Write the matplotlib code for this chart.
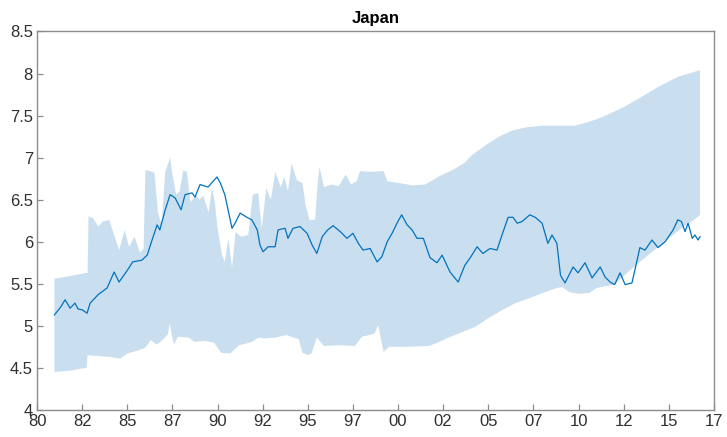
import matplotlib
matplotlib.use('Agg')
import matplotlib.pyplot as plt
import numpy as np

plt.rcParams['font.family'] = ['Liberation Sans', 'DejaVu Sans']

# median path (decimal year, value)
med_t = [1980.96, 1981.3, 1981.55, 1981.83, 1982.1, 1982.27, 1982.5, 1982.77, 1982.94,
         1983.38, 1983.88, 1984.27, 1984.54, 1985.0, 1985.3, 1985.8, 1986.1, 1986.37,
         1986.65, 1986.8, 1987.1, 1987.37, 1987.65, 1987.98, 1988.2, 1988.59, 1988.75,
         1989.03, 1989.47, 1989.97, 1990.15, 1990.4, 1990.7, 1990.8, 1990.97, 1991.25,
         1991.63, 1991.9, 1992.2, 1992.35, 1992.52, 1992.8, 1993.19, 1993.35, 1993.74,
         1993.9, 1994.18, 1994.57, 1994.96, 1995.24, 1995.5, 1995.8, 1996.1, 1996.4,
         1996.8, 1997.17, 1997.5, 1997.8, 1998.06, 1998.45, 1998.84, 1999.1, 1999.4,
         1999.67, 1999.94, 2000.2, 2000.5, 2000.78, 2001.05, 2001.4, 2001.77, 2002.16,
         2002.44, 2002.88, 2003.33, 2003.7, 2004.0, 2004.38, 2004.7, 2005.1, 2005.48,
         2005.76, 2006.1, 2006.37, 2006.6, 2006.87, 2007.3, 2007.6, 2007.98, 2008.3,
         2008.53, 2008.8, 2009.0, 2009.25, 2009.7, 2009.97, 2010.36, 2010.75, 2011.2,
         2011.47, 2011.75, 2012.0, 2012.3, 2012.58, 2012.96, 2013.4, 2013.68, 2014.07,
         2014.4, 2014.8, 2015.24, 2015.5, 2015.7, 2015.9, 2016.07, 2016.3, 2016.45,
         2016.62, 2016.73]
med_v = [5.13, 5.22, 5.31, 5.21, 5.27, 5.20, 5.19, 5.15, 5.27,
         5.37, 5.45, 5.64, 5.52, 5.66, 5.76, 5.78, 5.84, 6.02,
         6.20, 6.14, 6.38, 6.56, 6.52, 6.38, 6.56, 6.58, 6.53,
         6.68, 6.65, 6.77, 6.70, 6.56, 6.26, 6.16, 6.22, 6.34,
         6.29, 6.26, 6.14, 5.96, 5.88, 5.94, 5.94, 6.14, 6.16,
         6.04, 6.16, 6.18, 6.10, 5.96, 5.86, 6.06, 6.14, 6.19,
         6.12, 6.04, 6.10, 5.98, 5.90, 5.92, 5.76, 5.82, 6.00,
         6.10, 6.22, 6.32, 6.20, 6.14, 6.04, 6.04, 5.81, 5.75,
         5.84, 5.64, 5.52, 5.72, 5.81, 5.94, 5.86, 5.92, 5.90,
         6.08, 6.29, 6.29, 6.22, 6.24, 6.32, 6.29, 6.22, 5.98,
         6.08, 5.98, 5.60, 5.51, 5.70, 5.63, 5.75, 5.57, 5.70,
         5.58, 5.52, 5.49, 5.63, 5.49, 5.51, 5.93, 5.90, 6.02,
         5.93, 6.00, 6.14, 6.26, 6.24, 6.12, 6.22, 6.04, 6.08,
         6.02, 6.06]

# upper edge of the band
hi_t = [1980.96, 1981.5, 1982.0, 1982.5, 1982.8, 1982.85, 1983.1, 1983.4, 1983.65,
        1984.0, 1984.3, 1984.55, 1984.85, 1985.1, 1985.4, 1985.7, 1985.9, 1986.0,
        1986.25, 1986.5, 1986.7, 1986.9, 1987.1, 1987.37, 1987.5, 1987.7, 1987.9,
        1988.1, 1988.3, 1988.5, 1988.8, 1989.0, 1989.2, 1989.5, 1989.7, 1989.85,
        1990.0, 1990.25, 1990.4, 1990.6, 1990.8, 1991.0, 1991.3, 1991.7, 1991.95,
        1992.25, 1992.45, 1992.7, 1992.95, 1993.2, 1993.5, 1993.7, 1993.9, 1994.1,
        1994.4, 1994.7, 1994.9, 1995.1, 1995.4, 1995.55, 1995.65, 1995.9, 1996.3,
        1996.7, 1997.1, 1997.4, 1997.7, 1997.9, 1998.5, 1999.2, 1999.4, 2000.0,
        2000.8, 2001.5, 2002.3, 2003.0, 2003.7, 2004.1, 2004.8, 2005.6, 2006.3,
        2007.1, 2008.0, 2009.0, 2009.8, 2010.5, 2011.3, 2012.5, 2013.4, 2014.4,
        2015.5, 2016.73]
hi_v = [5.56, 5.58, 5.60, 5.62, 5.63, 6.30, 6.28, 6.18, 6.24,
        6.26, 6.06, 5.90, 6.14, 5.94, 6.06, 5.87, 5.92, 6.85,
        6.84, 6.82, 6.35, 6.20, 6.83, 7.00, 6.80, 6.56, 6.60,
        6.85, 6.83, 6.47, 6.55, 6.50, 6.55, 6.35, 6.64, 6.47,
        6.16, 5.84, 5.76, 6.04, 5.69, 6.12, 6.06, 6.08, 6.56,
        6.58, 6.16, 6.64, 6.50, 6.83, 6.65, 6.77, 6.60, 6.93,
        6.73, 6.70, 6.41, 6.26, 6.26, 6.70, 6.89, 6.65, 6.68,
        6.66, 6.80, 6.68, 6.72, 6.84, 6.83, 6.84, 6.72, 6.70,
        6.67, 6.68, 6.78, 6.85, 6.94, 7.03, 7.14, 7.25, 7.32,
        7.36, 7.38, 7.38, 7.38, 7.42, 7.48, 7.60, 7.71, 7.84,
        7.96, 8.04]

# lower edge of the band
lo_t = [1980.96, 1981.5, 1982.0, 1982.4, 1982.75, 1982.8, 1983.4, 1984.0, 1984.6,
        1985.0, 1985.5, 1986.0, 1986.3, 1986.6, 1986.8, 1987.25, 1987.35, 1987.5,
        1987.6, 1987.8, 1988.4, 1988.7, 1989.3, 1989.8, 1990.2, 1990.7, 1991.2,
        1991.8, 1992.3, 1992.6, 1993.2, 1993.8, 1994.5, 1994.7, 1995.0, 1995.2,
        1995.5, 1995.9, 1996.8, 1997.6, 1998.0, 1998.4, 1998.7, 1998.9, 1999.2,
        1999.5, 2000.5, 2001.7, 2002.2, 2002.8, 2003.5, 2004.3, 2005.0, 2005.8,
        2006.5, 2007.3, 2008.0, 2008.8, 2009.1, 2009.5, 2010.0, 2010.6, 2011.0,
        2011.5, 2012.0, 2012.7, 2013.4, 2014.2, 2015.0, 2015.7, 2016.4, 2016.73]
lo_v = [4.45, 4.46, 4.47, 4.49, 4.50, 4.65, 4.64, 4.63, 4.61,
        4.67, 4.70, 4.74, 4.83, 4.78, 4.80, 4.90, 5.03, 4.85,
        4.78, 4.87, 4.86, 4.81, 4.82, 4.80, 4.68, 4.67, 4.77,
        4.80, 4.86, 4.85, 4.86, 4.89, 4.84, 4.68, 4.65, 4.67,
        4.86, 4.76, 4.77, 4.76, 4.87, 4.89, 4.91, 5.01, 4.69,
        4.75, 4.75, 4.76, 4.80, 4.86, 4.92, 4.99, 5.09, 5.19,
        5.27, 5.33, 5.39, 5.45, 5.46, 5.40, 5.38, 5.39, 5.45,
        5.47, 5.49, 5.63, 5.76, 5.90, 6.04, 6.16, 6.26, 6.32]

x_ticks = [1980, 1982.5, 1985, 1987.5, 1990, 1992.5, 1995, 1997.5, 2000,
           2002.5, 2005, 2007.5, 2010, 2012.5, 2015, 2017.5]
x_labels = ['80', '82', '85', '87', '90', '92', '95', '97', '00', '02', '05',
            '07', '10', '12', '15', '17']
y_ticks = [4, 4.5, 5, 5.5, 6, 6.5, 7, 7.5, 8, 8.5]
y_labels = ['4', '4.5', '5', '5.5', '6', '6.5', '7', '7.5', '8', '8.5']

fig = plt.figure(figsize=(7.27, 4.37), dpi=100)
ax = fig.add_axes([0.051, 0.062, 0.931, 0.866])

poly_x = np.r_[hi_t, lo_t[::-1]]
poly_y = np.r_[hi_v, lo_v[::-1]]
ax.fill(poly_x, poly_y, color='#c9dff0', lw=0)
ax.plot(med_t, med_v, color='#0072bd', lw=0.9)

ax.set_xlim(1980, 2017.5)
ax.set_ylim(4, 8.5)
ax.set_xticks(x_ticks)
ax.set_xticklabels(x_labels)
ax.set_yticks(y_ticks)
ax.set_yticklabels(y_labels)
ax.tick_params(direction='in', length=4, width=0.9, color='#8c8c8c',
               labelsize=12, labelcolor='#303030', pad=3)
for s in ax.spines.values():
    s.set_color('#8c8c8c')
    s.set_linewidth(1.0)
ax.set_title('Japan', fontsize=12, fontweight='bold', pad=6)

fig.savefig('out.png', dpi=100)
